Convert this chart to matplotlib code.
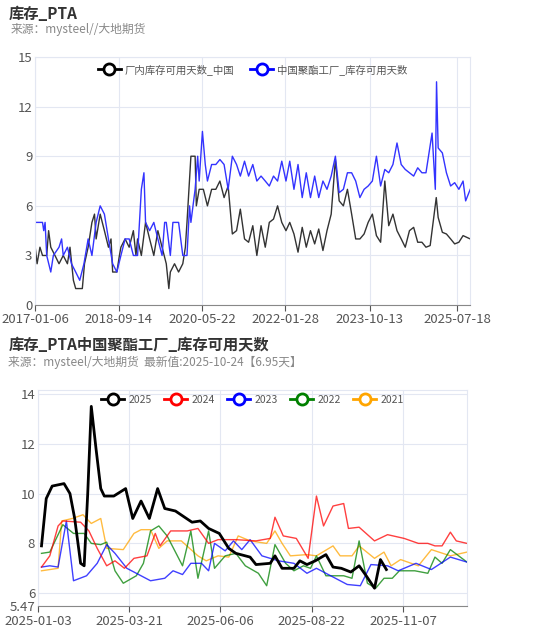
import pandas as pd
import matplotlib.pyplot as plt
import matplotlib.dates as mdates
from matplotlib.lines import Line2D

plt.rcParams['font.family'] = ['Noto Sans CJK SC', 'DejaVu Sans']

# --- top chart data ---
factory_dates = ["2017-01-06", "2017-01-20", "2017-02-10", "2017-03-01", "2017-04-01", "2017-04-15", "2017-05-01",
                 "2017-06-01", "2017-07-01", "2017-08-01", "2017-09-01", "2017-09-20", "2017-10-15", "2017-11-01",
                 "2017-12-20", "2018-01-05", "2018-02-01", "2018-03-01", "2018-03-20", "2018-04-01", "2018-05-01",
                 "2018-06-01", "2018-07-01", "2018-07-20", "2018-08-01", "2018-09-01", "2018-09-20", "2018-10-01",
                 "2018-11-01", "2018-12-01", "2019-01-01", "2019-01-20", "2019-02-01", "2019-03-01", "2019-04-01",
                 "2019-05-01", "2019-06-01", "2019-07-01", "2019-08-01", "2019-09-01", "2019-09-20", "2019-10-01",
                 "2019-11-01", "2019-12-01", "2020-01-01", "2020-01-20", "2020-02-01", "2020-03-01", "2020-04-01",
                 "2020-04-10", "2020-05-01", "2020-06-01", "2020-07-01", "2020-08-01", "2020-09-01", "2020-10-01",
                 "2020-11-01", "2020-12-01", "2021-01-01", "2021-02-01", "2021-03-01", "2021-04-01", "2021-05-01",
                 "2021-06-01", "2021-07-01", "2021-08-01", "2021-09-01", "2021-10-01", "2021-11-01", "2021-12-01",
                 "2022-01-01", "2022-02-01", "2022-03-01", "2022-04-01", "2022-05-01", "2022-06-01", "2022-07-01",
                 "2022-08-01", "2022-09-01", "2022-10-01", "2022-11-01", "2022-12-01", "2023-01-01", "2023-02-01",
                 "2023-03-01", "2023-04-01", "2023-05-01", "2023-06-01", "2023-07-01", "2023-08-01", "2023-09-01",
                 "2023-10-01", "2023-11-01", "2023-12-01", "2024-01-01", "2024-02-01", "2024-03-01", "2024-04-01",
                 "2024-05-01", "2024-06-01", "2024-07-01", "2024-08-01", "2024-09-01", "2024-10-01", "2024-11-01",
                 "2024-12-01", "2025-01-01", "2025-02-15", "2025-03-01", "2025-04-01", "2025-05-01", "2025-06-01",
                 "2025-07-01", "2025-08-01", "2025-09-01", "2025-10-24"]
factory_vals = [3.5, 2.5, 3.5, 3.0, 3.0, 4.5, 3.5, 3.0, 2.5, 3.0, 2.5, 3.5, 1.5, 1.0, 1.0, 2.5, 3.5, 5.0, 5.5, 4.0,
                5.5, 4.5, 3.5, 4.0, 2.0, 2.0, 3.0, 3.5, 4.0, 3.5, 4.5, 3.0, 4.0, 3.0, 5.0, 4.0, 3.0, 4.5, 3.5,
                2.5, 1.0, 2.0, 2.5, 2.0, 2.5, 3.5, 5.0, 9.0, 9.0, 6.0, 7.0, 7.0, 6.0, 7.0, 7.0, 7.5, 6.5, 7.2,
                4.3, 4.5, 5.8, 4.0, 3.8, 4.8, 3.0, 4.8, 3.5, 5.0, 5.2, 6.0, 5.0, 4.5, 5.0, 4.3, 3.2, 4.7, 3.5,
                4.5, 3.7, 4.6, 3.3, 4.5, 5.5, 8.8, 6.3, 6.0, 7.0, 5.5, 4.0, 4.0, 4.3, 5.0, 5.5, 4.2, 3.8, 7.5,
                4.8, 5.5, 4.5, 4.0, 3.5, 4.5, 4.7, 3.8, 3.8, 3.5, 3.6, 6.5, 5.3, 4.4, 4.3, 4.0, 3.7, 3.8, 4.2, 4.0]

polyester_dates = ["2017-01-06", "2017-03-01", "2017-03-10", "2017-03-20", "2017-04-01", "2017-05-01", "2017-05-20",
                   "2017-07-01", "2017-07-20", "2017-08-01", "2017-09-01", "2017-10-01", "2017-11-01", "2017-12-01",
                   "2018-01-01", "2018-02-01", "2018-03-01", "2018-04-01", "2018-05-01", "2018-06-01", "2018-07-01",
                   "2018-08-01", "2018-09-01", "2018-10-01", "2018-11-01", "2018-12-01", "2019-01-01", "2019-02-01",
                   "2019-03-01", "2019-03-20", "2019-04-01", "2019-05-01", "2019-06-01", "2019-07-01", "2019-08-01",
                   "2019-08-20", "2019-09-01", "2019-10-01", "2019-10-20", "2019-12-01", "2020-01-01", "2020-02-01",
                   "2020-02-20", "2020-03-01", "2020-04-01", "2020-04-20", "2020-05-01", "2020-05-25", "2020-06-15",
                   "2020-07-01", "2020-08-01", "2020-09-01", "2020-10-01", "2020-11-01", "2020-12-01", "2021-01-01",
                   "2021-02-01", "2021-03-01", "2021-04-01", "2021-05-01", "2021-06-01", "2021-07-01", "2021-08-01",
                   "2021-09-01", "2021-10-01", "2021-11-01", "2021-12-01", "2022-01-01", "2022-02-01", "2022-03-01",
                   "2022-04-01", "2022-05-01", "2022-06-01", "2022-07-01", "2022-08-01", "2022-09-01", "2022-10-01",
                   "2022-11-01", "2022-12-01", "2023-01-01", "2023-02-01", "2023-03-01", "2023-04-01", "2023-05-01",
                   "2023-06-01", "2023-07-01", "2023-08-01", "2023-09-01", "2023-10-01", "2023-11-01", "2023-12-01",
                   "2024-01-01", "2024-02-01", "2024-03-01", "2024-04-01", "2024-05-01", "2024-06-01", "2024-07-01",
                   "2024-08-01", "2024-09-01", "2024-10-01", "2024-11-01", "2024-12-01", "2025-01-15", "2025-02-08",
                   "2025-02-17", "2025-03-01", "2025-04-01", "2025-05-01", "2025-06-01", "2025-07-01", "2025-08-01",
                   "2025-09-01", "2025-09-20", "2025-10-24"]
polyester_vals = [5.0, 5.0, 4.5, 5.0, 3.0, 2.0, 3.0, 3.5, 4.0, 3.0, 3.5, 2.5, 2.0, 1.5, 2.5, 4.0, 3.0, 5.0, 6.0, 5.5,
                  4.0, 2.5, 2.0, 3.0, 4.0, 4.0, 3.0, 3.0, 7.0, 8.0, 5.0, 4.5, 5.0, 4.0, 3.0, 5.0, 5.0, 3.0, 5.0,
                  5.0, 3.0, 3.0, 6.0, 5.0, 7.0, 9.0, 7.5, 10.5, 8.5, 7.5, 8.5, 8.5, 8.8, 8.5, 7.0, 9.0, 8.5, 7.8,
                  8.7, 7.8, 8.5, 7.5, 7.8, 7.5, 7.2, 7.8, 7.5, 8.7, 7.5, 8.7, 7.0, 8.5, 6.5, 8.0, 6.5, 7.8, 6.5,
                  7.5, 7.0, 7.8, 9.0, 6.8, 7.0, 8.0, 8.0, 7.5, 6.5, 7.0, 7.2, 7.5, 9.0, 7.2, 8.2, 8.0, 8.5, 9.8,
                  8.5, 8.2, 8.0, 7.8, 8.3, 8.0, 8.0, 10.4, 7.0, 13.5, 9.5, 9.2, 8.0, 7.2, 7.4, 7.0, 7.5, 6.3, 7.0]

top_ticks = ["2017-01-06", "2018-09-14", "2020-05-22", "2022-01-28", "2023-10-13", "2025-07-18"]

# --- bottom chart data (seasonal, mapped onto 2025) ---
s2025_d = ["01-06", "01-10", "01-15", "01-25", "01-30", "02-03", "02-08", "02-11", "02-14", "02-17", "02-21", "02-25",
           "02-28", "03-08", "03-18", "03-24", "03-31", "04-07", "04-14", "04-20", "04-29", "05-13", "05-20", "05-27",
           "06-05", "06-13", "06-19", "07-01", "07-06", "07-18", "07-22", "07-28", "08-07", "08-12", "08-18", "08-25",
           "09-03", "09-09", "09-16", "09-24", "10-01", "10-07", "10-14", "10-19", "10-24"]
s2025_v = [7.9, 9.8, 10.3, 10.4, 10.0, 9.0, 7.2, 7.1, 10.0, 13.5, 11.8, 10.2, 9.9, 9.9, 10.2, 9.0, 9.7, 9.0, 10.2,
           9.4, 9.3, 8.85, 8.9, 8.6, 8.4, 7.8, 7.6, 7.45, 7.15, 7.2, 7.5, 7.0, 7.0, 7.3, 7.15, 7.3, 7.55, 7.05, 7.0,
           6.85, 7.1, 6.7, 6.2, 7.35, 6.95]
s2024_d = ["01-06", "01-13", "01-20", "01-24", "02-08", "02-15", "02-22", "03-02", "03-09", "03-17", "03-25", "04-05",
           "04-12", "04-16", "04-25", "05-09", "05-18", "05-27", "06-04", "06-19", "07-06", "07-18", "07-22", "07-29",
           "08-09", "08-19", "08-26", "09-01", "09-09", "09-18", "09-22", "10-01", "10-14", "10-25", "11-08", "11-20",
           "11-28", "12-04", "12-10", "12-17", "12-22", "12-31"]
s2024_v = [7.05, 7.5, 8.7, 8.9, 8.85, 8.5, 7.8, 7.1, 7.3, 7.0, 7.4, 7.5, 8.4, 7.9, 8.5, 8.5, 8.6, 8.0, 8.15, 8.15,
           8.1, 8.2, 9.05, 8.3, 8.2, 7.4, 9.9, 8.7, 9.5, 9.6, 8.6, 8.65, 8.1, 8.35, 8.2, 8.0, 8.0, 7.9, 7.9, 8.45,
           8.1, 8.0]
s2023_d = ["01-06", "01-13", "01-20", "01-27", "02-02", "02-13", "02-22", "03-02", "03-09", "03-19", "03-31", "04-08",
           "04-20", "04-27", "05-05", "05-12", "05-21", "05-27", "06-01", "06-10", "06-17", "06-24", "07-01", "07-11",
           "07-25", "08-07", "08-18", "08-26", "09-07", "09-21", "10-02", "10-11", "10-25", "11-03", "11-18", "12-01",
           "12-17", "12-31"]
s2023_v = [7.05, 7.1, 7.05, 8.9, 6.5, 6.7, 7.2, 7.95, 7.6, 7.0, 6.7, 6.5, 6.6, 6.9, 6.75, 7.2, 7.2, 6.9, 8.0, 7.7,
           8.1, 7.75, 8.15, 7.5, 7.3, 7.2, 6.8, 7.0, 6.7, 6.35, 6.3, 7.15, 7.1, 6.9, 7.2, 6.95, 7.45, 7.25]
s2022_d = ["01-06", "01-13", "01-24", "02-02", "02-11", "02-17", "02-25", "03-02", "03-09", "03-16", "03-27", "04-02",
           "04-08", "04-15", "04-22", "05-05", "05-12", "05-18", "05-27", "06-01", "06-10", "06-19", "06-27", "07-08",
           "07-15", "07-22", "07-31", "08-07", "08-15", "08-21", "08-26", "09-03", "09-18", "09-25", "10-01", "10-08",
           "10-15", "10-22", "10-29", "11-04", "11-17", "11-28", "12-04", "12-10", "12-17", "12-31"]
s2022_v = [7.6, 7.65, 8.75, 8.4, 8.4, 8.0, 7.95, 8.05, 6.9, 6.4, 6.7, 7.2, 8.5, 8.7, 8.3, 7.1, 8.5, 6.6, 8.5, 7.0,
           7.5, 7.6, 7.1, 6.8, 6.3, 7.95, 7.2, 6.9, 7.1, 7.0, 7.5, 6.7, 6.7, 6.6, 8.1, 6.4, 6.2, 6.6, 6.6, 6.9,
           6.9, 6.8, 7.45, 7.2, 7.75, 7.25]
s2021_d = ["01-06", "01-20", "01-23", "02-01", "02-10", "02-17", "02-25", "03-02", "03-16", "03-25", "03-31", "04-08",
           "04-15", "04-22", "05-04", "05-18", "05-25", "06-04", "06-13", "06-21", "07-01", "07-15", "07-22", "07-28",
           "08-04", "08-18", "08-26", "09-09", "09-15", "09-25", "10-01", "10-14", "10-22", "10-28", "11-05", "11-20",
           "12-01", "12-17", "12-31"]
s2021_v = [6.9, 7.0, 8.9, 9.0, 9.15, 8.8, 9.0, 7.8, 7.75, 8.4, 8.55, 8.55, 7.8, 8.1, 8.1, 7.5, 7.3, 7.5, 7.45, 8.3,
           8.1, 8.0, 8.5, 8.0, 7.5, 7.55, 7.5, 7.9, 7.5, 7.5, 7.9, 7.4, 7.65, 7.1, 7.35, 7.1, 7.75, 7.5, 7.65]

bottom_ticks = ["2025-01-03", "2025-03-21", "2025-06-06", "2025-08-22", "2025-11-07"]
bottom_yticks = [5.47, 6, 8, 10, 12, 14]

GRID = "#e3e7f2"
AXIS = "#888888"
TXT = "#555555"


def style_axes(ax):
    for s in ["left", "top", "right"]:
        ax.spines[s].set_color(GRID)
    ax.spines["bottom"].set_color(AXIS)
    ax.grid(True, color=GRID, linewidth=0.8)
    ax.set_axisbelow(True)
    ax.tick_params(colors=TXT, labelsize=9.5, length=4, pad=2)
    ax.tick_params(axis="y", length=0)


def legend_handles(colors, labels):
    return [Line2D([0], [0], color=c, lw=2, marker="o", markersize=8, markerfacecolor="white",
                   markeredgewidth=2, label=l) for c, l in zip(colors, labels)]


fig = plt.figure(figsize=(5.5, 6.33), dpi=100)

# ---------- top ----------
fig.text(0.015, 0.978, "库存_PTA", fontsize=11, fontweight="bold", color="#333333", va="center")
fig.text(0.02, 0.953, "来源：mysteel//大地期货", fontsize=8.5, color="#888888", va="center")
ax1 = fig.add_axes([0.064, 0.518, 0.791, 0.392])
ax1.plot(pd.to_datetime(factory_dates), factory_vals, color="#333333", lw=1.0)
ax1.plot(pd.to_datetime(polyester_dates), polyester_vals, color="#3333ff", lw=1.0)
ax1.set_xlim(pd.Timestamp("2017-01-06"), pd.Timestamp("2025-10-24"))
ax1.set_ylim(0, 15)
ax1.set_yticks([0, 3, 6, 9, 12, 15])
ax1.set_xticks(pd.to_datetime(top_ticks))
ax1.xaxis.set_major_formatter(mdates.DateFormatter("%Y-%m-%d"))
style_axes(ax1)
ax1.legend(handles=legend_handles(["black", "blue"], ["厂内库存可用天数_中国", "中国聚酯工厂_库存可用天数"]),
           loc="upper center", bbox_to_anchor=(0.5, 1.01), ncol=2, frameon=False, fontsize=7.5,
           handlelength=2.2, columnspacing=1.5, handletextpad=0.4, labelcolor="#555555")

# ---------- bottom ----------
fig.text(0.015, 0.455, "库存_PTA中国聚酯工厂_库存可用天数", fontsize=11, fontweight="bold", color="#333333", va="center")
fig.text(0.015, 0.428, "来源：mysteel/大地期货  最新值:2025-10-24【6.95天】", fontsize=8.5, color="#888888", va="center")
ax2 = fig.add_axes([0.069, 0.042, 0.78, 0.342])
series = [(s2025_d, s2025_v, "black", "2025", 2.0), (s2024_d, s2024_v, "red", "2024", 1.0),
          (s2023_d, s2023_v, "blue", "2023", 1.0), (s2022_d, s2022_v, "green", "2022", 1.0),
          (s2021_d, s2021_v, "orange", "2021", 1.0)]
for d, v, c, lab, lw in series[::-1]:
    ax2.plot(pd.to_datetime(["2025-" + x for x in d]), v, color=c, lw=lw, alpha=1.0 if lab == "2025" else 0.75)
ax2.set_xlim(pd.Timestamp("2025-01-03"), pd.Timestamp("2025-12-31"))
ax2.set_ylim(5.47, 14.16)
ax2.set_yticks(bottom_yticks)
ax2.set_yticklabels(["5.47", "6", "8", "10", "12", "14"])
ax2.set_xticks(pd.to_datetime(bottom_ticks))
ax2.xaxis.set_major_formatter(mdates.DateFormatter("%Y-%m-%d"))
style_axes(ax2)
ax2.legend(handles=legend_handles([s[2] for s in series], [s[3] for s in series]),
           loc="upper center", bbox_to_anchor=(0.5, 1.02), ncol=5, frameon=False, fontsize=7.5,
           handlelength=2.2, columnspacing=1.2, handletextpad=0.4, labelcolor="#555555")

fig.savefig("out.png", dpi=100)
